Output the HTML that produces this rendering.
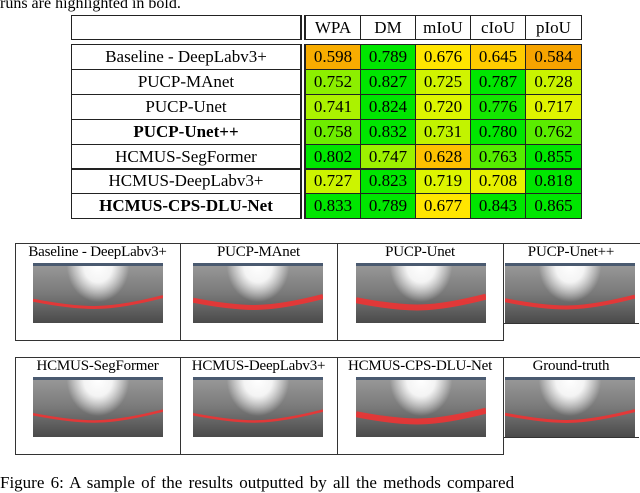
<!DOCTYPE html>
<html><head><meta charset="utf-8"><style>
body{margin:0;width:640px;height:482px;background:#fff;overflow:hidden;position:relative;font-family:"Liberation Serif",serif;color:#000}
.a{position:absolute}
.cell{position:absolute;box-sizing:border-box;display:flex;align-items:center;justify-content:center;font-size:17px;white-space:nowrap}
.fr{position:absolute;box-sizing:border-box;border:1.3px solid #333}
.cap{position:absolute;font-size:15px;text-align:center;white-space:nowrap;letter-spacing:-0.2px}
</style></head><body>
<div class="a" style="left:0;top:-5px;font-size:16px">runs are highlighted in bold.</div>
<div id="tbl"></div>
<div id="grid"></div>
<div class="a" style="left:0;top:473px;font-size:17px;white-space:nowrap;word-spacing:2px">Figure 6: A sample of the results outputted by all the methods compared</div>
<script>
const metrics=["WPA","DM","mIoU","cIoU","pIoU"];
const methods=["Baseline - DeepLabv3+","PUCP-MAnet","PUCP-Unet","PUCP-Unet++","HCMUS-SegFormer","HCMUS-DeepLabv3+","HCMUS-CPS-DLU-Net"];
const bold=[false,false,false,true,false,false,true];
const wpa=[0.598,0.752,0.741,0.758,0.802,0.727,0.833];
const dm=[0.789,0.827,0.824,0.832,0.747,0.823,0.789];
const miou=[0.676,0.725,0.720,0.731,0.628,0.719,0.677];
const ciou=[0.645,0.787,0.776,0.780,0.763,0.708,0.843];
const piou=[0.584,0.728,0.717,0.762,0.855,0.818,0.865];
const cols=[wpa,dm,miou,ciou,piou];
function color(v){
  const stops=[[0.58,[245,160,0]],[0.64,[255,200,0]],[0.68,[255,232,0]],[0.72,[220,245,0]],[0.75,[150,240,0]],[0.78,[0,230,0]],[0.9,[0,230,0]]];
  if(v<=stops[0][0])return 'rgb('+stops[0][1]+')';
  for(let i=1;i<stops.length;i++){if(v<=stops[i][0]){const t=(v-stops[i-1][0])/(stops[i][0]-stops[i-1][0]);const c=stops[i-1][1].map((x,k)=>Math.round(x+(stops[i][1][k]-x)*t));return 'rgb('+c+')';}}
  return 'rgb(0,230,0)';
}
const T=document.getElementById('tbl');
const colX=[305,360,415,470,525,581];
function mk(html,l,t,w,h,st){const d=document.createElement('div');d.className='cell';d.style.cssText=`left:${l}px;top:${t}px;width:${w}px;height:${h}px;`+st;d.innerHTML=html;T.appendChild(d);return d;}
let h=mk('',71,15,230,25,'border:1.3px solid #222;');


metrics.forEach((m,i)=>{const d=mk(m,colX[i],15,colX[i+1]-colX[i]+1,25,'border:1.3px solid #222;');

});
const r0=44,rh=24.9;
methods.forEach((n,r)=>{const y=r0+r*rh;
 const d=mk(n,71,y,230,rh+1,'border:1.3px solid #222;'+(bold[r]?'font-weight:bold;':''));
 
 
 cols.forEach((arr,i)=>{const c=mk(arr[r].toFixed(3),colX[i],y,colX[i+1]-colX[i]+1,rh+1,'border:1.3px solid #222;background:'+color(arr[r])+';');
 
 });
});
[[301,15,2,25],[301,44,2,rh*7+1]].forEach(a=>{const d=document.createElement('div');d.className='a';d.style.cssText=`left:${a[0]}px;top:${a[1]}px;width:${a[2]}px;height:${a[3]}px;border-left:1.3px solid #222;border-right:1.3px solid #222;`;

T.appendChild(d);});
const G=document.getElementById('grid');
const caps=[["Baseline - DeepLabv3+","PUCP-MAnet","PUCP-Unet","PUCP-Unet++"],["HCMUS-SegFormer","HCMUS-DeepLabv3+","HCMUS-CPS-DLU-Net","Ground-truth"]];
const fx=[15,180,337,503,639];const ix=[33,193,356,505];
const cw=[6,10,12,8,5,5,12,6];
caps.forEach((row,ri)=>{const y=ri?357:243;
 row.forEach((c,i)=>{const f=document.createElement('div');f.className='fr';f.style.cssText=`left:${fx[i]}px;top:${y}px;width:${fx[i+1]-fx[i]+1}px;height:${i==3?93:98}px;`+(i==3?'border-bottom:none;border-right:none;':'');
 
 G.appendChild(f);
 if(i==3){const b=document.createElement('div');b.className='a';b.style.cssText=`left:${fx[i]}px;top:${y+80}px;width:136px;height:0;border-top:1.3px solid #333`;
 
 G.appendChild(b);}
 const t=document.createElement('div');t.className='cap';t.style.cssText=`left:${fx[i]}px;top:${y+1}px;width:${fx[i+1]-fx[i]}px;`;t.textContent=c;
 
 G.appendChild(t);
 const k=ri*4+i,w=130,hh=60;
 const s=document.createElementNS('http://www.w3.org/2000/svg','svg');s.setAttribute('width',w);s.setAttribute('height',hh);s.style.cssText=`position:absolute;left:${ix[i]}px;top:${y+20}px`;
 
 
 const th=cw[k];
 s.innerHTML=`<defs><radialGradient id="g${k}" cx="0.5" cy="0.05" r="0.6" gradientTransform="translate(0.3 0) scale(0.4 1)"><stop offset="0" stop-color="#fff"/><stop offset="0.45" stop-color="#f4f4f4"/><stop offset="1" stop-color="#fff" stop-opacity="0"/></radialGradient>
 <linearGradient id="l${k}" x1="0" y1="0" x2="0" y2="1"><stop offset="0" stop-color="#9a9a9a"/><stop offset="0.5" stop-color="#7a7a7a"/><stop offset="1" stop-color="#4a4a4a"/></linearGradient></defs>
 <rect width="${w}" height="${hh}" fill="url(#l${k})"/><rect width="${w}" height="${hh}" fill="url(#g${k})"/>
 <rect width="${w}" height="3" fill="#4a5a70"/>
 <path d="M0 ${hh*0.62} Q40 ${hh*0.75} 65 ${hh*0.74} T130 ${hh*0.56}" stroke="#e33" stroke-width="${th/2}" fill="none" opacity="0.9"/>`;
 G.appendChild(s);});
});
</script>
</body></html>
